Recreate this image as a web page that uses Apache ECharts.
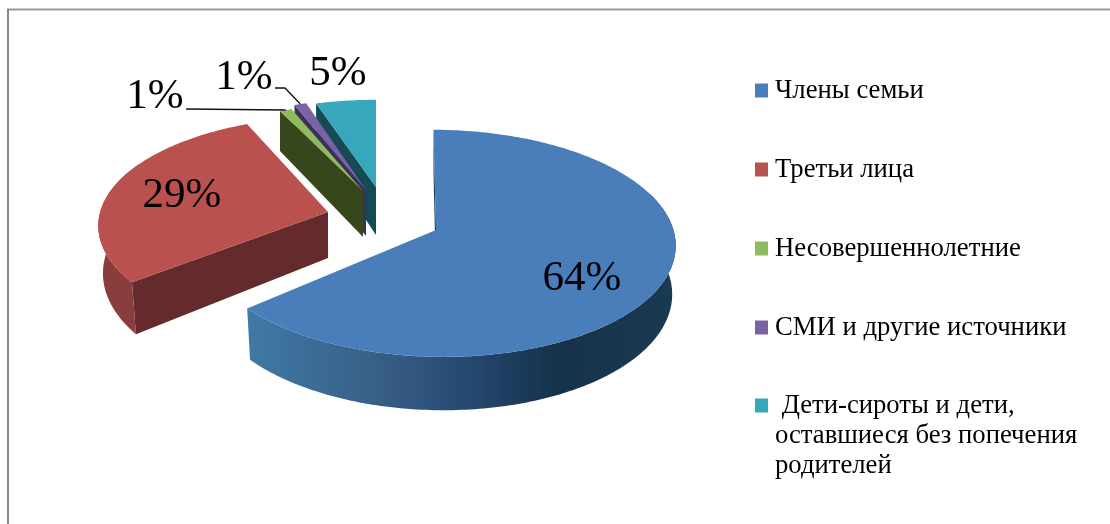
<!DOCTYPE html>
<html>
<head>
<meta charset="utf-8">
<style>
html,body{margin:0;padding:0;background:#fff;}
#chart{width:1110px;height:524px;}
</style>
<script src="https://cdn.jsdelivr.net/npm/echarts@6/dist/echarts.min.js"></script>
</head>
<body>
<div id="chart"></div>
<script>
// данные
var categories = ['Члены семьи', 'Третьи лица', 'Несовершеннолетние', 'СМИ и другие источники',
	' Дети-сироты и дети,\nоставшиеся без попечения\nродителей'];
var shares = [64, 29, 1, 1, 5];

// цвета: верх, радиальная стенка
var topColors = ['#4a7ebb', '#b9524f', '#8fbb5e', '#7a62a6', '#37a7bb'];
var wallColors = ['#15384f', '#652a2c', '#37471c', '#3d2f5a', '#164a55'];

// геометрия секторов (взрыв и перспектива подобраны по картинке)
var shapes = [
	{cx:438, cy:232, ax:436, ay:230, rx:236, ry:112.4, p:0.1, q:5, depth:48, shrink:0.985},
	{cx:331, cy:206.4, ax:328, ay:212, rx:229, ry:105.6, p:0.178, q:0, depth:46, shrink:0.98},
	{cx:363, cy:191, ax:363, ay:191, rx:225, ry:102, p:0.17, q:0, depth:46, shrink:1},
	{cx:366, cy:190, ax:366, ay:190, rx:225, ry:106, p:0.17, q:0, depth:46, shrink:1},
	{cx:376, cy:187, ax:376, ay:187, rx:225, ry:102, p:0.17, q:0, depth:48, shrink:1}
];
// подписи и выноски
var labels = [
	{x:582, y:279},
	{x:182, y:196},
	{x:155, y:97, line:[[186,109]]},
	{x:244, y:78, line:[[275,88],[285,88]]},
	{x:338, y:74}
];
var drawOrder = [5, 4, 3, 2, 1];
var FONT = '"Liberation Serif"';

var total = 0, starts = [];
for (var i = 0; i < shares.length; i++) {
	starts.push(total);
	total += shares[i];
}

function project(sh, deg) {
	var a = deg * Math.PI / 180;
	var u = Math.sin(a), v = -Math.cos(a);
	var s = 1 / (1 - sh.p * v);
	return {x: sh.cx + (sh.rx * u + sh.q * v) * s, y: sh.cy + sh.ry * v * s, s: s};
}
function lower(sh, pt) {
	return [sh.cx + (pt.x - sh.cx) * sh.shrink, pt.y + sh.depth * pt.s];
}
function apexLow(sh) {
	return [sh.cx + (sh.ax - sh.cx) * sh.shrink, sh.ay + sh.depth];
}

function wallFill(idx) {
	if (idx === 0) {
		return new echarts.graphic.LinearGradient(0, 0, 1, 0, [
			{offset: 0, color: '#3f7aa5'},
			{offset: 0.3, color: '#385f87'},
			{offset: 0.5, color: '#274a75'},
			{offset: 0.72, color: '#16324a'},
			{offset: 1, color: '#1a3a50'}
		]);
	}
	return idx === 1 ? '#8a3d3d' : wallColors[idx];
}

function renderSlice(params, api) {
	var idx = params.seriesIndex;
	var sh = shapes[idx];
	var d0 = starts[idx] / total * 360;
	var d1 = d0 + api.value(0) / total * 360;
	var kids = [];
	var d, top = [[sh.ax, sh.ay]];
	for (d = d0; d < d1; d += 1) {
		var tp = project(sh, d);
		top.push([tp.x, tp.y]);
	}
	var endPt = project(sh, d1);
	top.push([endPt.x, endPt.y]);

	// стенка по начальному радиусу
	var startPt = project(sh, d0);
	kids.push({type: 'polygon', shape: {points: [
		[sh.ax, sh.ay], [startPt.x, startPt.y], lower(sh, startPt), apexLow(sh)
	]}, style: {fill: wallColors[idx]}});

	// внешняя стенка, только передняя часть дуги
	var a0 = Math.max(d0, 70), a1 = Math.min(d1, 295);
	if (a1 > a0) {
		var upper = [], bottom = [];
		for (d = a0; d <= a1; d += 1) {
			var ap = project(sh, d);
			upper.push([ap.x, ap.y]);
			bottom.unshift(lower(sh, ap));
		}
		var last = project(sh, a1);
		upper.push([last.x, last.y]);
		bottom.unshift(lower(sh, last));
		kids.push({type: 'polygon', shape: {points: upper.concat(bottom)}, style: {fill: wallFill(idx)}});
	}

	kids.push({type: 'polygon', shape: {points: top}, style: {fill: topColors[idx]}});

	// выноска к середине дуги
	var lb = labels[idx];
	if (lb.line) {
		var mid = project(sh, (d0 + d1) / 2);
		kids.push({type: 'polyline', shape: {points: lb.line.concat([[mid.x, mid.y]])},
			style: {stroke: '#111', lineWidth: 1.3, fill: 'none'}});
	}
	kids.push({type: 'text', z2: 10, style: {
		x: lb.x, y: lb.y,
		text: Math.round(api.value(0) / total * 100) + '%',
		fill: '#000', font: '43px ' + FONT,
		textAlign: 'center', textVerticalAlign: 'middle'
	}});
	return {type: 'group', children: kids};
}

var seriesList = categories.map(function (name, i) {
	return {
		name: name,
		type: 'custom',
		coordinateSystem: 'none',
		z: drawOrder[i],
		silent: true,
		itemStyle: {color: topColors[i]},
		renderItem: renderSlice,
		data: [[shares[i]]]
	};
});

var legendText = {color: '#000', fontFamily: FONT, fontSize: 26.7, lineHeight: 30, padding: [9, 0, 0, 2]};

var chart = echarts.init(document.getElementById('chart'), null, {renderer: 'canvas'});
chart.setOption({
	animation: false,
	backgroundColor: '#fff',
	legend: [
		{
			orient: 'vertical', left: 750, top: 66,
			icon: 'rect', itemWidth: 13, itemHeight: 14, itemGap: 40,
			selectedMode: false,
			textStyle: legendText,
			data: categories.slice(0, 4)
		},
		{
			// иконка держится по центру текста, поэтому две пустые строки сверху
			orient: 'vertical', left: 750, top: 321,
			icon: 'rect', itemWidth: 13, itemHeight: 14,
			selectedMode: false,
			textStyle: legendText,
			formatter: function (name) { return '\n\n' + name; },
			data: categories.slice(4)
		}
	],
	graphic: [
		{type: 'line', shape: {x1: 7, y1: 9.5, x2: 1110, y2: 9.5}, style: {stroke: '#9a9a9a', lineWidth: 2}},
		{type: 'line', shape: {x1: 8, y1: 9, x2: 8, y2: 524}, style: {stroke: '#868686', lineWidth: 2}}
	],
	series: seriesList
});
</script>
</body>
</html>
